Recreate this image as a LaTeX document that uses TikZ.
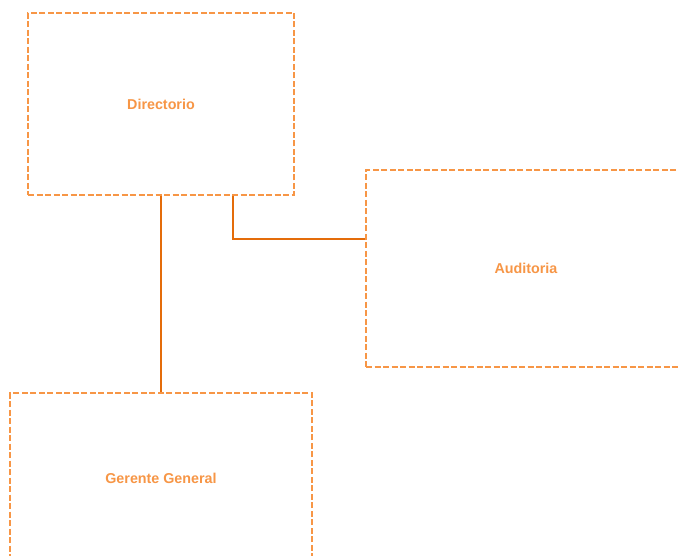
\documentclass[tikz,border=0pt]{standalone}
\usepackage{fontspec}
\setmainfont{Liberation Sans}
\definecolor{boxor}{HTML}{F79646}
\definecolor{lineor}{HTML}{E46C0A}
\begin{document}
\begin{tikzpicture}[x=1pt,y=-1pt,
  orgbox/.style={draw=boxor, line width=1.3pt, dash pattern=on 6pt off 2.5pt,
    rectangle, inner sep=0pt, text=boxor,
    font=\fontsize{14.3}{17}\selectfont\bfseries},
  link/.style={draw=lineor, line width=1.8pt}]
\path[use as bounding box, clip] (0,0) rectangle (678,556);
\fill[white] (0,0) rectangle (678,556);
\node[orgbox, minimum width=266pt, minimum height=182pt] (dir) at (161,104) {Directorio};
\node[orgbox, minimum width=320pt, minimum height=197pt] (aud) at (526,268.5) {Auditoria};
\node[orgbox, minimum width=302pt, minimum height=170pt] (ger) at (161,478) {Gerente General};
\coordinate (j) at (233,239);
\draw[link] (dir.south) -- (ger.north);
\draw[link] (dir.south -| j) |- (j -| aud.west);
\end{tikzpicture}
\end{document}
